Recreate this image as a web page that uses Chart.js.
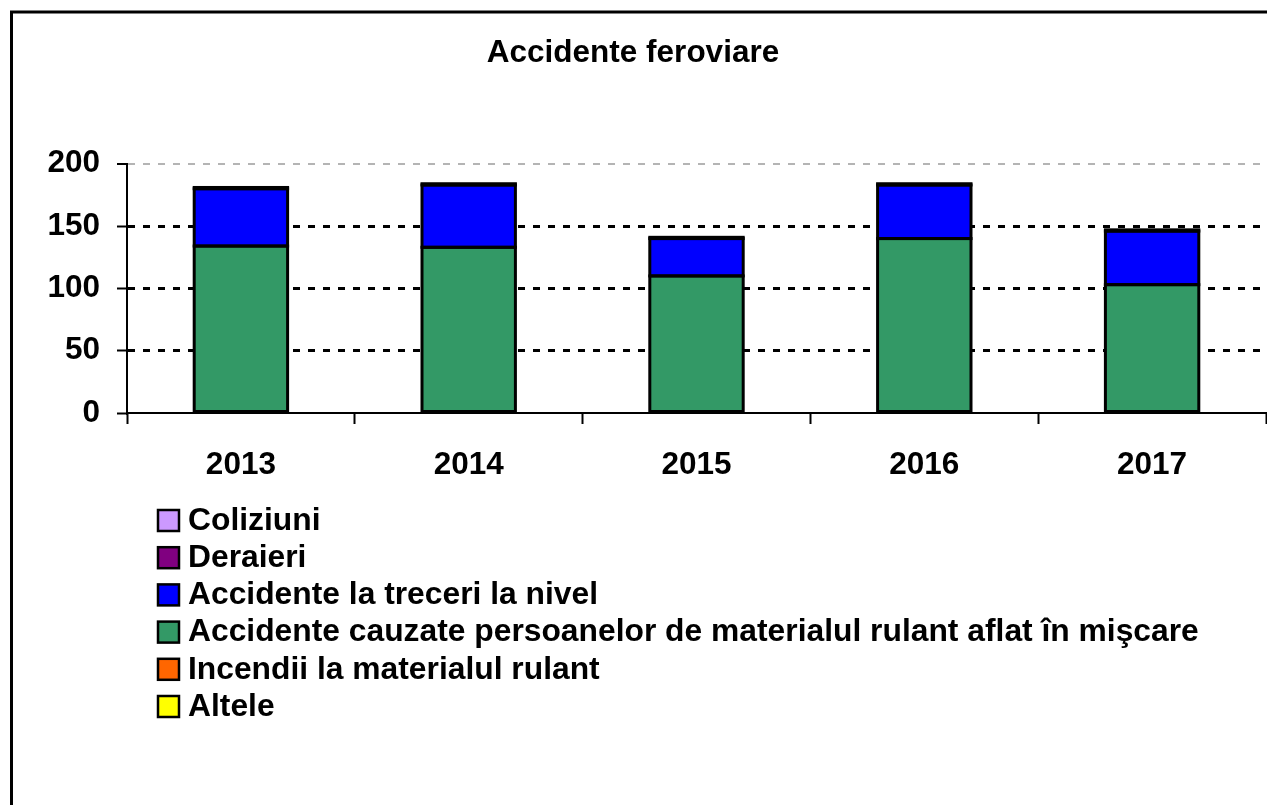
<!DOCTYPE html>
<html>
<head>
<meta charset="utf-8">
<script src="https://cdn.jsdelivr.net/npm/chart.js@4"></script>
<style>
  html, body { margin: 0; padding: 0; background: #fff; }
  #wrap { width: 1267px; height: 805px; }
</style>
</head>
<body>
<div id="wrap"><canvas id="c" width="1267" height="805"></canvas></div>
<script>
const titleText = 'Accidente feroviare';
const categories = ['2013', '2014', '2015', '2016', '2017'];
const yTicks = [0, 50, 100, 150, 200];

const seriesNames = ['Coliziuni', 'Deraieri', 'Accidente la treceri la nivel',
  'Accidente cauzate persoanelor de materialul rulant aflat în mişcare',
  'Incendii la materialul rulant', 'Altele'];
const seriesColors = ['#CC99FF', '#800080', '#0000FF', '#339966', '#FF6600', '#FFFF00'];

const coliziuni = [0, 0, 0, 0, 0];
const deraieri = [1, 1, 1, 1, 1];
const treceriNivel = [46, 50, 30, 43, 43];
const persoane = [134, 133, 110, 140, 103];
const incendii = [0, 0, 0, 0, 0];
const altele = [0, 0, 0, 0, 0];

const seriesValues = [coliziuni, deraieri, treceriNivel, persoane, incendii, altele];

const FONT = "'Liberation Sans', Arial, sans-serif";
const FSIZE = 31.5;
const LEGEND_FSIZE = 31.8;

// stacking order: bottom-most first (reverse of legend order)
const datasets = [];
for (let i = seriesNames.length - 1; i >= 0; i--) {
  datasets.push({
    label: seriesNames[i],
    data: seriesValues[i],
    backgroundColor: seriesColors[i],
    borderWidth: 0,
    inflateAmount: 0,
    categoryPercentage: 1,
    barPercentage: 0.41
  });
}

// Excel-like outlines: stroke centred on each segment edge, using the bar elements' own geometry
const outlinePlugin = {
  id: 'outline',
  afterDatasetsDraw(chart) {
    const ctx = chart.ctx;
    ctx.save();
    ctx.strokeStyle = '#000';
    ctx.lineWidth = 3;
    chart.getSortedVisibleDatasetMetas().forEach(meta => {
      meta.data.forEach(el => {
        const h = el.base - el.y;
        if (Math.abs(h) < 0.01) return;
        ctx.strokeRect(el.x - el.width / 2, el.y, el.width, h);
      });
    });
    ctx.restore();
  }
};

const framePlugin = {
  id: 'frame',
  beforeDraw(chart) {
    const ctx = chart.ctx;
    ctx.save();
    ctx.fillStyle = '#fff';
    ctx.fillRect(0, 0, chart.width, chart.height);
    ctx.restore();
  },
  afterDraw(chart) {
    const ctx = chart.ctx;
    ctx.save();
    ctx.strokeStyle = '#000';
    ctx.lineWidth = 3;
    ctx.strokeRect(11.5, 12, 1300, 900);
    // legend (legend order = seriesNames order)
    ctx.font = 'bold ' + LEGEND_FSIZE + 'px ' + FONT;
    ctx.textBaseline = 'middle';
    ctx.textAlign = 'left';
    const y0 = 520, step = 37.2;
    seriesNames.forEach((name, i) => {
      const cy = y0 + i * step;
      ctx.fillStyle = seriesColors[i];
      ctx.fillRect(158, cy - 10, 21, 21);
      ctx.lineWidth = 2.5;
      ctx.strokeStyle = '#000';
      ctx.strokeRect(158, cy - 10, 21, 21);
      ctx.fillStyle = '#000';
      ctx.fillText(name, 188, cy + 1);
    });
    ctx.restore();
  }
};

new Chart(document.getElementById('c'), {
  type: 'bar',
  data: { labels: categories, datasets },
  options: {
    responsive: false,
    animation: false,
    layout: { padding: { left: 0, top: 0, right: 1, bottom: 0 } },
    plugins: {
      legend: { display: false },
      tooltip: { enabled: false },
      title: {
        display: true,
        text: titleText,
        color: '#000',
        font: { family: FONT, size: FSIZE, weight: 'bold' },
        padding: { top: 34, bottom: 92 }
      }
    },
    scales: {
      x: {
        stacked: true,
        afterFit(scale) { scale.height = 392; },
        grid: {
          display: true,
          offset: true,
          drawOnChartArea: false,
          drawTicks: true,
          tickLength: 11,
          tickColor: '#000',
          tickWidth: 2
        },
        border: { display: true, color: '#000', width: 2 },
        ticks: {
          color: '#000',
          padding: 22,
          font: { family: FONT, size: FSIZE, weight: 'bold' }
        }
      },
      y: {
        stacked: true,
        min: 0,
        max: 200,
        afterFit(scale) { scale.width = 127; },
        afterBuildTicks(scale) { scale.ticks = yTicks.map(v => ({ value: v })); },
        grid: {
          display: true,
          drawTicks: true,
          tickLength: 10,
          tickColor: '#000',
          tickWidth: 2,
          tickBorderDash: [],
          color: (ctx) => {
            const v = ctx.tick ? ctx.tick.value : null;
            if (v === 0) return 'rgba(0,0,0,0)';
            if (v === 200) return '#b4b4b4';
            return '#000';
          },
          lineWidth: (ctx) => (ctx.tick && ctx.tick.value === 200 ? 2 : 3)
        },
        border: { display: true, color: '#000', width: 2, dash: [7, 8] },
        ticks: {
          color: '#000',
          padding: 17,
          font: { family: FONT, size: FSIZE, weight: 'bold' },
          callback: (v) => String(v)
        }
      }
    }
  },
  plugins: [framePlugin, outlinePlugin]
});
</script>
</body>
</html>
